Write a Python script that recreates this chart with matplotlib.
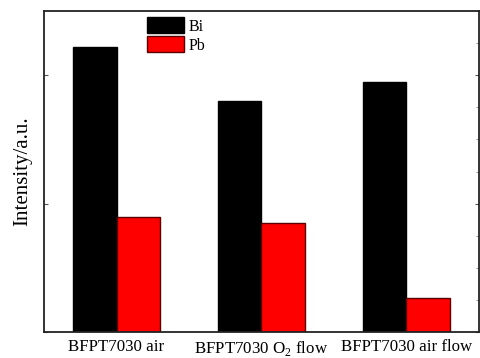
import numpy as np
import matplotlib
matplotlib.use('Agg')
import matplotlib.pyplot as plt
from matplotlib.ticker import MultipleLocator, NullFormatter

plt.rcParams['font.family'] = 'Liberation Serif'
plt.rcParams['mathtext.fontset'] = 'custom'
plt.rcParams['mathtext.rm'] = 'Liberation Serif'

# Samples and relative intensities
samples = ['BFPT7030 air', 'BFPT7030 O$_2$ flow', 'BFPT7030 air flow']
bi_values = [0.888, 0.720, 0.779]
pb_values = [0.358, 0.340, 0.106]

fig = plt.figure(figsize=(4.81, 3.58), dpi=100)
ax = fig.add_axes([0.0915, 0.0726, 0.9043, 0.8964])

x = np.arange(len(samples))
w = 0.3
ax.bar(x - w / 2, bi_values, w, color='black', edgecolor='black', linewidth=1, label='Bi')
ax.bar(x + w / 2, pb_values, w, color='red', edgecolor='#5a0000', linewidth=1, label='Pb')

ax.set_xlim(-0.5, 2.5)
ax.set_ylim(0, 1)
ax.set_xticks(x)
ax.set_xticklabels(samples, fontsize=12.2)
ax.set_ylabel('Intensity/a.u.', fontsize=15, labelpad=5)

ax.yaxis.set_major_locator(MultipleLocator(0.4))
ax.yaxis.set_minor_locator(MultipleLocator(0.1))
ax.yaxis.set_major_formatter(NullFormatter())
ax.tick_params(axis='y', which='major', direction='in', length=3, width=0.8,
               color='#555555', left=True, right=True)
ax.tick_params(axis='y', which='minor', direction='in', length=2, width=0.6,
               color='#888888', left=False, right=True)
ax.tick_params(axis='x', which='major', length=0, pad=5)

for s in ax.spines.values():
    s.set_linewidth(1.3)
    s.set_color('#222222')

fig.legend(loc='upper left', bbox_to_anchor=(147 / 481, (358 - 17.5) / 358),
           frameon=False, fontsize=11.5, handlelength=2.3, handleheight=1.15,
           handletextpad=0.3, labelspacing=0.1, borderpad=0, borderaxespad=0)

fig.savefig('out.png', dpi=100)
